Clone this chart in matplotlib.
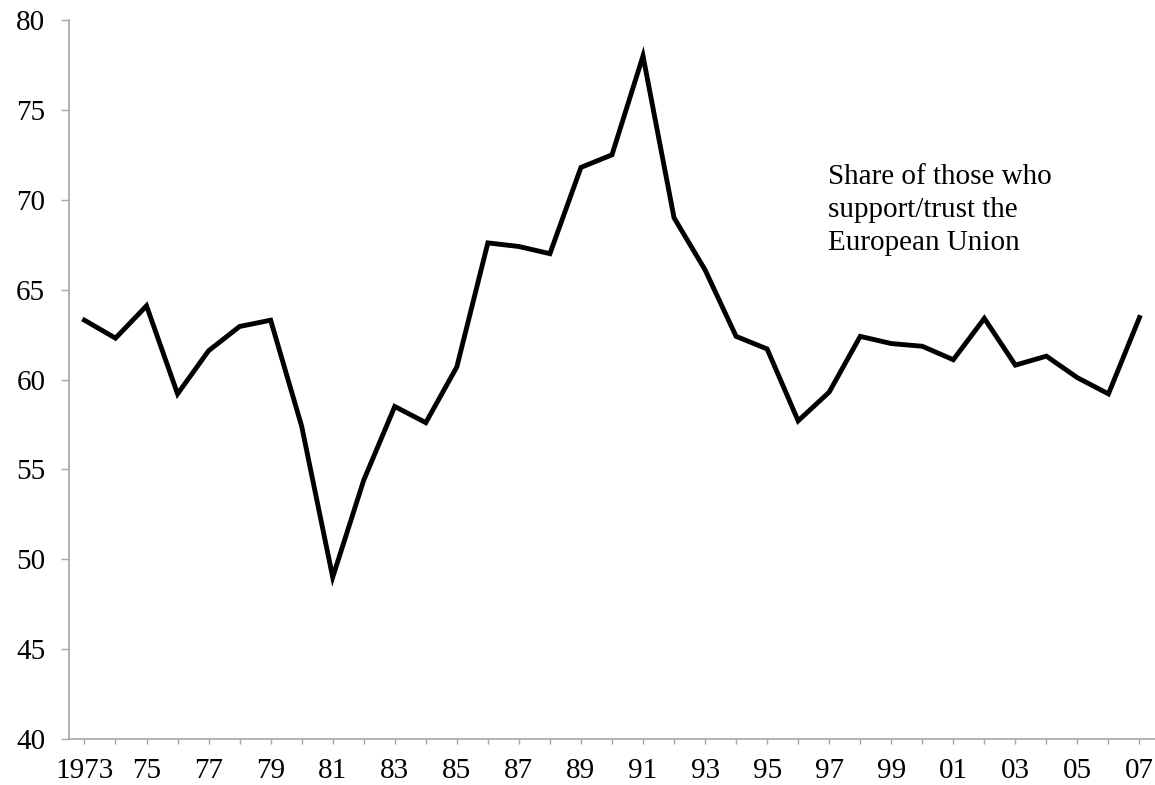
import matplotlib.pyplot as plt

plt.rcParams['font.family'] = ['Liberation Serif', 'DejaVu Serif']

# Share supporting / trusting the EU, 1973-2007
years = list(range(1973, 2008))
share = [63.3, 62.3, 64.1, 59.2, 61.6, 62.95, 63.3, 57.4, 49.0, 54.4,
         58.5, 57.6, 60.7, 67.6, 67.4, 67.0, 71.8, 72.5, 78.0, 69.0,
         66.1, 62.4, 61.7, 57.7, 59.3, 62.4, 62.0, 61.85, 61.1, 63.4,
         60.8, 61.3, 60.1, 59.2, 63.45]
x_labels = ['1973', '', '75', '', '77', '', '79', '', '81', '', '83', '', '85', '',
            '87', '', '89', '', '91', '', '93', '', '95', '', '97', '', '99', '',
            '01', '', '03', '', '05', '', '07']
y_ticks = [40, 45, 50, 55, 60, 65, 70, 75, 80]
note = 'Share of those who\nsupport/trust the\nEuropean Union'

fig = plt.figure(figsize=(11.55, 7.85), dpi=100)
ax = fig.add_axes([0.0597, 0.0586, 0.9403, 0.9159])

ax.plot(years, share, color='black', linewidth=3.5, solid_joinstyle='miter')

ax.set_xlim(1972.5, 2007.5)
ax.set_ylim(40, 80)
ax.set_xticks(years)
ax.set_xticklabels(x_labels)
ax.set_yticks(y_ticks)

for s in ['top', 'right']:
    ax.spines[s].set_visible(False)
for s in ['left', 'bottom']:
    ax.spines[s].set_color('#a6a6a6')
    ax.spines[s].set_linewidth(1.2)

ax.tick_params(axis='x', direction='out', length=3.6, width=1, color='#a6a6a6',
               labelsize=21, pad=10)
ax.tick_params(axis='y', direction='out', length=6, width=1, color='#a6a6a6',
               labelsize=21, pad=11)

ax.text(1996.95, 72.0, note, fontsize=21, va='top', ha='left', linespacing=1.36)

fig.savefig('out.png', dpi=100)
